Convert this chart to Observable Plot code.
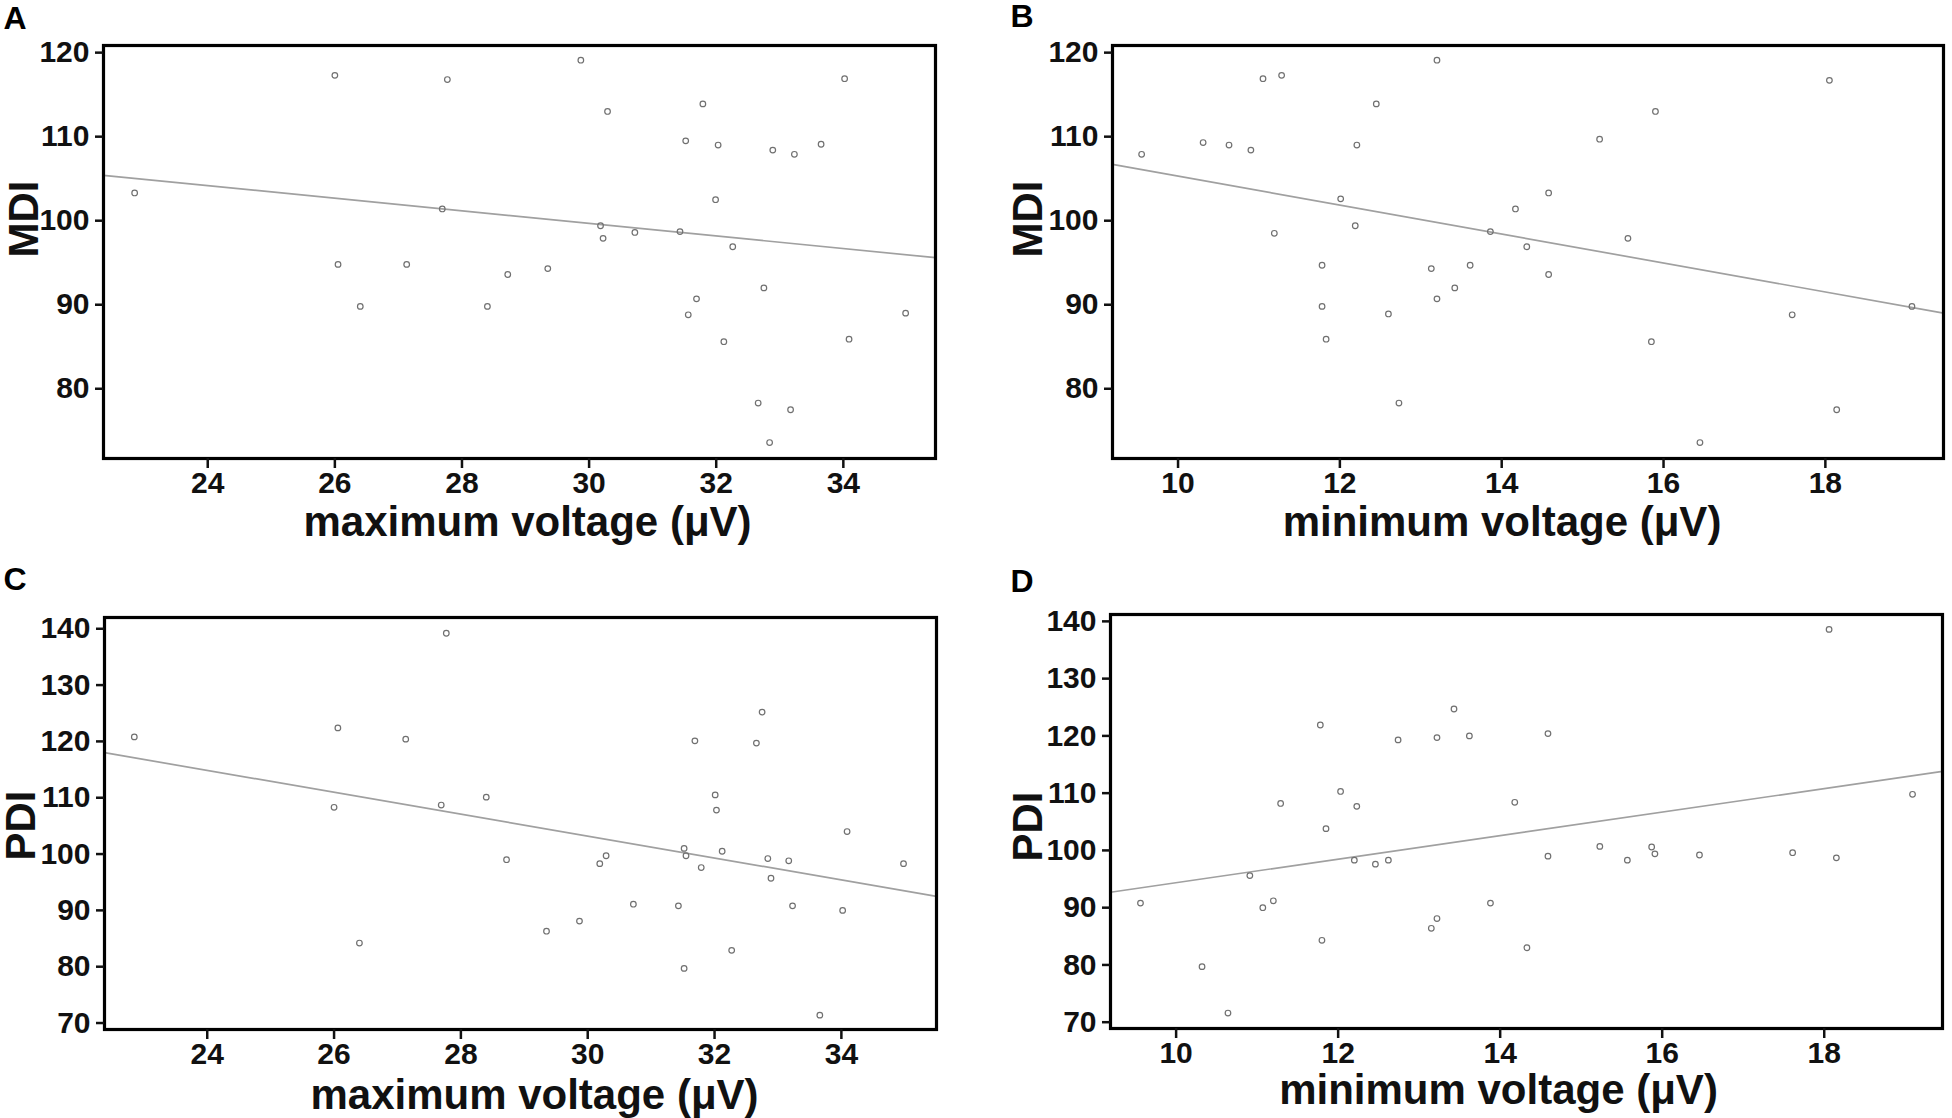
<!DOCTYPE html>
<html>
<head>
<meta charset="utf-8">
<script src="https://cdn.jsdelivr.net/npm/d3@7"></script>
<script src="https://cdn.jsdelivr.net/npm/@observablehq/plot@0.6"></script>
<style>
  body { margin: 0; background: #fff; }
  #wrap { position: relative; width: 1952px; height: 1118px; background: #fff; }
  #wrap svg { position: absolute; }
</style>
</head>
<body>
<div id="wrap"></div>
<script>
// ---------- Data ----------
// Panel A: MDI vs maximum voltage
const maxVoltageA = [22.85, 26.0, 26.05, 26.4, 27.13, 27.77, 27.69, 28.4, 28.72, 29.35, 29.87, 30.29, 30.18, 30.22, 30.72, 31.43, 31.52, 31.79, 31.69, 31.56, 32.03, 31.99, 32.12, 32.26, 32.75, 32.66, 32.84, 32.89, 33.23, 33.17, 33.65, 34.02, 34.09, 34.98];
const mdiA        = [103.3, 117.3, 94.8, 89.8, 94.8, 116.8, 101.4, 89.8, 93.6, 94.3, 119.1, 113.0, 99.4, 97.9, 98.6, 98.7, 109.5, 113.9, 90.7, 88.8, 109.0, 102.5, 85.6, 96.9, 92.0, 78.3, 73.6, 108.4, 107.9, 77.5, 109.1, 116.9, 85.9, 89.0];
const fitXA = [22.36, 35.45];
const fitYA = [105.4, 95.6];

// Panel B: MDI vs minimum voltage
const minVoltageB = [9.55, 10.31, 10.63, 10.90, 11.05, 11.28, 11.19, 11.78, 11.78, 11.83, 12.01, 12.19, 12.21, 12.45, 12.60, 12.73, 13.13, 13.20, 13.20, 13.42, 13.61, 13.86, 14.17, 14.31, 14.58, 14.58, 15.21, 15.56, 15.85, 15.90, 16.45, 17.59, 18.05, 18.14, 19.07];
const mdiB        = [107.9, 109.3, 109.0, 108.4, 116.9, 117.3, 98.5, 94.7, 89.8, 85.9, 102.6, 99.4, 109.0, 113.9, 88.9, 78.3, 94.3, 119.1, 90.7, 92.0, 94.7, 98.7, 101.4, 96.9, 103.3, 93.6, 109.7, 97.9, 85.6, 113.0, 73.6, 88.8, 116.7, 77.5, 89.8];
const fitXB = [9.19, 19.46];
const fitYB = [106.7, 89.0];

// Panel C: PDI vs maximum voltage
const maxVoltageC = [22.85, 26.06, 26.0, 26.4, 27.13, 27.77, 27.69, 28.4, 28.72, 29.35, 29.87, 30.19, 30.29, 30.72, 31.43, 31.52, 31.55, 31.52, 31.69, 31.79, 32.01, 32.03, 32.12, 32.27, 32.66, 32.75, 32.84, 32.89, 33.17, 33.23, 33.66, 34.02, 34.09, 34.98];
const pdiC        = [120.8, 122.4, 108.3, 84.2, 120.4, 139.2, 108.7, 110.1, 99.0, 86.3, 88.1, 98.3, 99.7, 91.1, 90.8, 101.0, 99.7, 79.7, 120.1, 97.6, 110.5, 107.8, 100.5, 82.9, 119.7, 125.2, 99.2, 95.7, 98.8, 90.8, 71.4, 90.0, 104.0, 98.3];
const fitXC = [22.38, 35.5];
const fitYC = [118.0, 92.5];

// Panel D: PDI vs minimum voltage
const minVoltageD = [9.56, 10.32, 10.64, 10.91, 11.07, 11.20, 11.29, 11.78, 11.85, 11.80, 12.03, 12.20, 12.23, 12.46, 12.62, 12.74, 13.15, 13.22, 13.22, 13.43, 13.62, 13.88, 14.18, 14.33, 14.59, 14.59, 15.23, 15.57, 15.87, 15.91, 16.46, 17.61, 18.06, 18.15, 19.09];
const pdiD        = [90.8, 79.7, 71.6, 95.6, 90.0, 91.2, 108.2, 121.9, 103.8, 84.3, 110.3, 98.3, 107.7, 97.6, 98.3, 119.3, 86.4, 119.7, 88.1, 124.7, 120.0, 90.8, 108.4, 83.0, 120.4, 99.0, 100.7, 98.3, 100.6, 99.4, 99.2, 99.6, 138.6, 98.7, 109.8];
const fitXD = [9.19, 19.46];
const fitYD = [92.7, 113.8];

// Tick values
const ticksMaxVoltage = [24, 26, 28, 30, 32, 34];
const ticksMinVoltage = [10, 12, 14, 16, 18];
const ticksMDI = [80, 90, 100, 110, 120];
const ticksPDI = [70, 80, 90, 100, 110, 120, 130, 140];

// Labels
const panelLetters = ["A", "B", "C", "D"];
const xTitles = ["maximum voltage (μV)", "minimum voltage (μV)", "maximum voltage (μV)", "minimum voltage (μV)"];
const yTitles = ["MDI", "MDI", "PDI", "PDI"];

// ---------- Drawing ----------
const FONT = "'Liberation Sans', Arial, Helvetica, sans-serif";

function panel(cfg) {
  const pts = cfg.xs.map((x, i) => ({x, y: cfg.ys[i]}));
  const fit = cfg.fitX.map((x, i) => ({x, y: cfg.fitY[i]}));
  const svg = Plot.plot({
    width: 976,
    height: 559,
    marginLeft: cfg.m[0],
    marginTop: cfg.m[1],
    marginRight: cfg.m[2],
    marginBottom: cfg.m[3],
    style: {fontFamily: FONT, fontSize: "30px", fontWeight: "bold", color: "#111", background: "transparent", overflow: "visible"},
    x: {domain: cfg.xDomain},
    y: {domain: cfg.yDomain},
    marks: [
      Plot.line(fit, {x: "x", y: "y", stroke: "#a0a0a0", strokeWidth: 1.7}),
      Plot.dot(pts, {x: "x", y: "y", r: 2.8, stroke: "#707070", strokeWidth: 1.2, fill: "none"}),
      Plot.frame({stroke: "#000", strokeWidth: 3.2}),
      Plot.axisX({ticks: cfg.xTicks, tickFormat: d => String(d), tickSize: 10, tickPadding: 3, strokeWidth: 2.5, label: null, fontSize: 30}),
      Plot.axisY({ticks: cfg.yTicks, tickFormat: d => String(d), tickSize: 8, tickPadding: 6, strokeWidth: 2.5, label: null, fontSize: 30}),
      Plot.text([cfg.xTitle], {frameAnchor: "bottom", text: d => d, lineAnchor: "bottom", dx: cfg.xTitleDx, dy: cfg.xTitleDy, fontSize: 42, fontWeight: "bold", fill: "#111"}),
      Plot.text([cfg.yTitle], {frameAnchor: "left", text: d => d, rotate: -90, textAnchor: "middle", lineAnchor: "bottom", dx: cfg.yTitleDx, dy: cfg.yTitleDy, fontSize: 42, fontWeight: "bold", fill: "#111"}),
      Plot.text([cfg.letter], {frameAnchor: "top-left", text: d => d, textAnchor: "start", lineAnchor: "bottom", dx: cfg.letterDx, dy: cfg.letterDy, fontSize: 32, fontWeight: "bold", fill: "#000"})
    ]
  });
  svg.style.left = cfg.left + "px";
  svg.style.top = cfg.top + "px";
  document.getElementById("wrap").appendChild(svg);
}

panel({
  letter: panelLetters[0], xs: maxVoltageA, ys: mdiA, fitX: fitXA, fitY: fitYA,
  xDomain: [22.36, 35.45], yDomain: [71.7, 120.85], xTicks: ticksMaxVoltage, yTicks: ticksMDI,
  xTitle: xTitles[0], yTitle: yTitles[0],
  left: 0, top: 0, m: [103, 45, 41, 101],
  xTitleDx: 8, xTitleDy: 77, yTitleDx: -66, yTitleDy: -33, letterDx: -100, letterDy: -17
});
panel({
  letter: panelLetters[1], xs: minVoltageB, ys: mdiB, fitX: fitXB, fitY: fitYB,
  xDomain: [9.19, 19.46], yDomain: [71.7, 120.85], xTicks: ticksMinVoltage, yTicks: ticksMDI,
  xTitle: xTitles[1], yTitle: yTitles[1],
  left: 976, top: 0, m: [136, 45, 9, 101],
  xTitleDx: -26, xTitleDy: 77, yTitleDx: -71, yTitleDy: -33, letterDx: -102, letterDy: -19
});
panel({
  letter: panelLetters[2], xs: maxVoltageC, ys: pdiC, fitX: fitXC, fitY: fitYC,
  xDomain: [22.38, 35.5], yDomain: [68.85, 142.0], xTicks: ticksMaxVoltage, yTicks: ticksPDI,
  xTitle: xTitles[2], yTitle: yTitles[2],
  left: 0, top: 559, m: [104, 58, 40, 89],
  xTitleDx: 14, xTitleDy: 79, yTitleDx: -70, yTitleDy: 2, letterDx: -101, letterDy: -28
});
panel({
  letter: panelLetters[3], xs: minVoltageD, ys: pdiD, fitX: fitXD, fitY: fitYD,
  xDomain: [9.19, 19.46], yDomain: [68.9, 141.2], xTicks: ticksMinVoltage, yTicks: ticksPDI,
  xTitle: xTitles[3], yTitle: yTitles[3],
  left: 976, top: 559, m: [134, 55, 10, 90],
  xTitleDx: -28, xTitleDy: 75, yTitleDx: -69, yTitleDy: 5, letterDx: -100, letterDy: -23
});
</script>
</body>
</html>
